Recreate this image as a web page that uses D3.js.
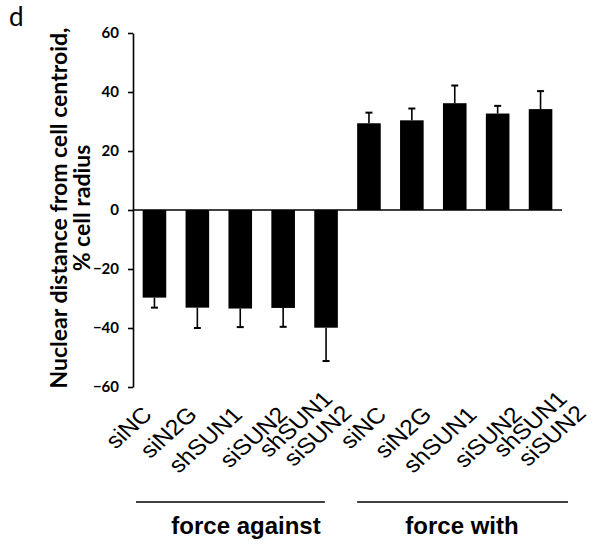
<!DOCTYPE html>
<html>
<head>
<meta charset="utf-8">
<script src="https://cdn.jsdelivr.net/npm/d3@7"></script>
<style>
  html, body { margin: 0; padding: 0; background: #fff; }
  svg { display: block; }
</style>
</head>
<body>
<svg id="chart" width="595" height="550"></svg>
<script>
// Treatment conditions, in drawing order (two groups of five)
const conditions = ["siNC", "siN2G", "shSUN1", "siSUN2", "shSUN1|siSUN2",
                    "siNC", "siN2G", "shSUN1", "siSUN2", "shSUN1|siSUN2"];
const groupOf = [0, 0, 0, 0, 0, 1, 1, 1, 1, 1];
const groupNames = ["force against", "force with"];
// Mean nuclear offset (% of cell radius) and its error (drawn away from zero)
const means  = [-29.7, -33.1, -33.4, -33.2, -39.9, 29.4, 30.4, 36.2, 32.7, 34.2];
const errors = [3.4, 6.9, 6.3, 6.4, 11.3, 3.6, 4.0, 6.0, 2.6, 6.1];
const yTicks = [-60, -40, -20, 0, 20, 40, 60];

const svg = d3.select("#chart");
const idx = d3.range(conditions.length);

const x = d3.scaleBand().domain(idx).range([133, 562])
  .paddingInner(0.45).paddingOuter(0.225);
const y = d3.scaleLinear().domain([-60, 60]).range([387, 33]);

// Panel letter
svg.append("text").attr("x", 9).attr("y", 26)
  .style("font-family", "Lato, 'Open Sans', sans-serif")
  .style("font-size", "26px").text("d");

// Bars
svg.append("g").selectAll("rect").data(idx).join("rect")
  .attr("x", i => x(i))
  .attr("width", x.bandwidth())
  .attr("y", i => y(Math.max(0, means[i])))
  .attr("height", i => Math.abs(y(means[i]) - y(0)))
  .attr("fill", "#000");

// One-sided error bars
const eb = svg.append("g").attr("stroke", "#000");
idx.forEach(i => {
  const cx = x(i) + x.bandwidth() / 2;
  const tip = means[i] + Math.sign(means[i]) * errors[i];
  eb.append("line").attr("x1", cx).attr("x2", cx)
    .attr("y1", y(means[i])).attr("y2", y(tip)).attr("stroke-width", 1.6);
  eb.append("line").attr("x1", cx - 3.5).attr("x2", cx + 3.5)
    .attr("y1", y(tip)).attr("y2", y(tip)).attr("stroke-width", 2);
});

// Zero baseline across the plot
svg.append("line").attr("x1", 133).attr("x2", 562)
  .attr("y1", y(0)).attr("y2", y(0))
  .attr("stroke", "#000").attr("stroke-width", 1.6);

// Y axis
const yAxis = svg.append("g").attr("transform", "translate(133,0)")
  .call(d3.axisLeft(y).tickValues(yTicks).tickSize(5).tickPadding(9).tickSizeOuter(0));
yAxis.select(".domain").attr("stroke-width", 1.6);
yAxis.selectAll(".tick line").attr("stroke-width", 1.6);
yAxis.selectAll("text")
  .style("font-family", "Lato, sans-serif")
  .style("font-weight", "700")
  .style("font-size", "15px")
  .attr("fill", "#000");

// Y axis title (two lines)
const yt = svg.append("text")
  .attr("transform", "translate(67,208) rotate(-90)")
  .attr("text-anchor", "middle")
  .style("font-family", "Lato, sans-serif")
  .style("font-weight", "700")
  .style("font-size", "23px");
yt.append("tspan").attr("x", 0).attr("dy", 0).text("Nuclear distance from cell centroid,");
yt.append("tspan").attr("x", 0).attr("dy", 23).text("% cell radius");

// Rotated category labels (end of text near the bar, reading up-right)
const groupShift = [-1, 19];
idx.forEach(i => {
  const k = i % 5;
  const cx = x(i) + x.bandwidth() / 2 + groupShift[groupOf[i]] + 2.2 * k;
  const lines = conditions[i].split("|");
  const t = svg.append("text")
    .attr("transform", `translate(${cx},${416}) scale(1.12,1) rotate(-45)`)
    .attr("text-anchor", "end")
    .style("font-family", "'Liberation Sans', Arial, sans-serif")
    .style("font-size", "22px");
  if (lines.length === 1) {
    t.text(lines[0]);
  } else {
    t.append("tspan").attr("x", 11).attr("dy", "-0.5em").text(lines[0]);
    t.append("tspan").attr("x", 13).attr("dy", "1em").text(lines[1]);
  }
});

// Group brackets and names
groupNames.forEach((name, g) => {
  const members = idx.filter(i => groupOf[i] === g);
  const x0 = g === 0 ? 136 : x(members[0]);
  const x1 = g === 0 ? x(members[members.length - 1]) + x.bandwidth() - 13 : 568;
  svg.append("line").attr("x1", x0).attr("x2", x1)
    .attr("y1", 502).attr("y2", 502)
    .attr("stroke", "#000").attr("stroke-width", 1.3);
  const mid = g === 0 ? 246 : 462;
  svg.append("text").attr("x", mid).attr("y", 534)
    .attr("text-anchor", "middle")
    .style("font-family", "'Liberation Sans', Arial, sans-serif")
    .style("font-weight", "700")
    .style("font-size", "24px")
    .text(name);
});
</script>
</body>
</html>
